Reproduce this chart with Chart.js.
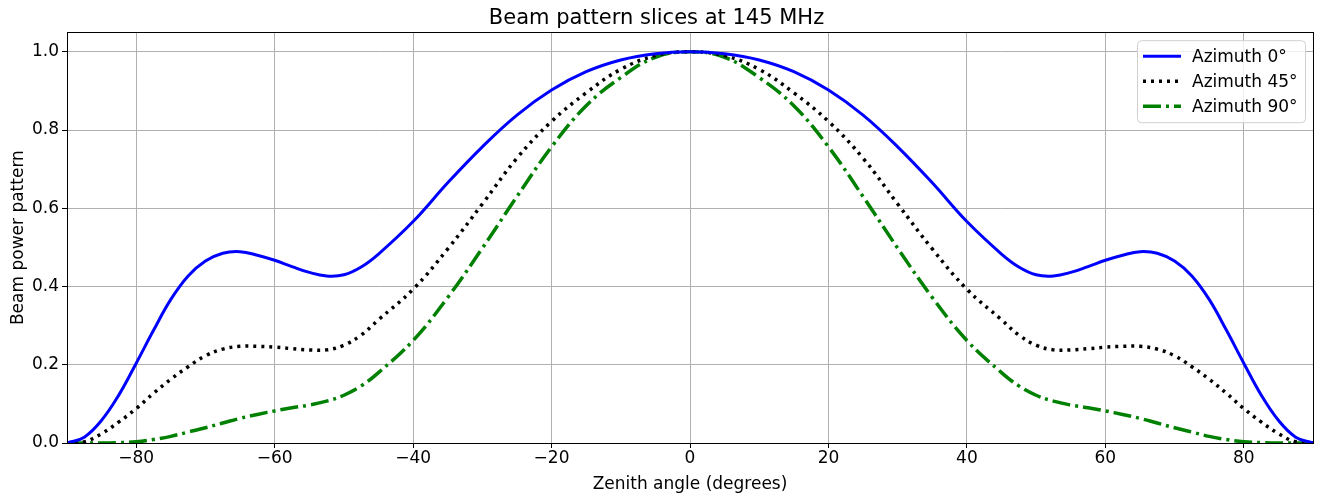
<!DOCTYPE html>
<html>
<head>
<meta charset="utf-8">
<script src="https://cdn.jsdelivr.net/npm/chart.js@4.4.1/dist/chart.umd.min.js"></script>
<style>
  html, body { margin: 0; padding: 0; background: #fff; }
  #wrap { width: 1322px; height: 497px; }
</style>
</head>
<body>
<div id="wrap"><canvas id="beamChart" width="1322" height="497"></canvas></div>
<script>
// Ángulos cenitales (grados)
const angulos = [-90, -87.5, -85, -82.5, -80, -77.5, -75, -72.5, -70, -67.5, -65, -62.5, -60, -57.5, -55, -52.5, -50, -47.5, -45,
                 -40, -35, -30, -25, -20, -15, -10, -5, 0, 5, 10, 15, 20, 25, 30, 35, 40,
                 45, 47.5, 50, 52.5, 55, 57.5, 60, 62.5, 65, 67.5, 70, 72.5, 75, 77.5, 80, 82.5, 85, 87.5, 90];

// Patrón de potencia por azimut
const azimut0 = [0, 0.015, 0.058, 0.123, 0.204, 0.288, 0.367, 0.427, 0.465, 0.485, 0.489, 0.48, 0.467, 0.451, 0.436, 0.427, 0.43, 0.45, 0.483,
                 0.566, 0.665, 0.757, 0.838, 0.902, 0.949, 0.979, 0.995, 1.0, 0.995, 0.979, 0.949, 0.902, 0.838, 0.757, 0.665, 0.566,
                 0.483, 0.45, 0.43, 0.427, 0.436, 0.451, 0.467, 0.48, 0.489, 0.485, 0.465, 0.427, 0.367, 0.288, 0.204, 0.123, 0.058, 0.015, 0];
const azimut45 = [0, 0.003, 0.024, 0.054, 0.088, 0.127, 0.163, 0.195, 0.223, 0.24, 0.247, 0.247, 0.245, 0.241, 0.238, 0.238, 0.25, 0.276, 0.315,
                  0.393, 0.496, 0.611, 0.728, 0.822, 0.895, 0.955, 0.99, 1.0, 0.99, 0.955, 0.895, 0.822, 0.728, 0.611, 0.496, 0.393,
                  0.315, 0.276, 0.25, 0.238, 0.238, 0.241, 0.245, 0.247, 0.247, 0.24, 0.223, 0.195, 0.163, 0.127, 0.088, 0.054, 0.024, 0.003, 0];
const azimut90 = [0, 0, 0, 0.001, 0.003, 0.009, 0.017, 0.028, 0.039, 0.051, 0.063, 0.073, 0.082, 0.09, 0.097, 0.107, 0.122, 0.146, 0.18,
                  0.262, 0.372, 0.498, 0.63, 0.757, 0.862, 0.934, 0.986, 1.0, 0.986, 0.934, 0.862, 0.757, 0.63, 0.498, 0.372, 0.262,
                  0.18, 0.146, 0.122, 0.107, 0.097, 0.09, 0.082, 0.073, 0.063, 0.051, 0.039, 0.028, 0.017, 0.009, 0.003, 0.001, 0, 0, 0];

const ticksX = [-80, -60, -40, -20, 0, 20, 40, 60, 80];
const ticksY = [0, 0.2, 0.4, 0.6, 0.8, 1.0];

const FUENTE = "'DejaVu Sans', sans-serif";

function puntos(valores) {
    return angulos.map((a, i) => ({ x: a, y: valores[i] }));
}

// Marco del eje y leyenda estilo matplotlib
const marcoYLeyenda = {
    id: 'marcoYLeyenda',
    afterDatasetsDraw(chart) {
        const { ctx, chartArea: ca } = chart;
        ctx.save();
        ctx.strokeStyle = '#000';
        ctx.lineWidth = 1;
        ctx.strokeRect(Math.round(ca.left) + 0.5, Math.round(ca.top) + 0.5,
                       Math.round(ca.right - ca.left), Math.round(ca.bottom - ca.top));

        // leyenda
        const w = 168, h = 82;
        const x0 = ca.right - 8 - w, y0 = ca.top + 8;
        ctx.beginPath();
        ctx.roundRect(x0 + 0.5, y0 + 0.5, w, h, 4);
        ctx.fillStyle = 'rgba(255,255,255,0.8)';
        ctx.fill();
        ctx.strokeStyle = '#d0d0d0';
        ctx.stroke();

        ctx.font = '17px ' + FUENTE;
        ctx.textBaseline = 'middle';
        chart.data.datasets.forEach((ds, i) => {
            const yy = y0 + 16 + i * 25;
            ctx.beginPath();
            ctx.strokeStyle = ds.borderColor;
            ctx.lineWidth = ds.borderWidth;
            ctx.setLineDash(ds.borderDash || []);
            ctx.moveTo(x0 + 6, yy);
            ctx.lineTo(x0 + 44, yy);
            ctx.stroke();
            ctx.setLineDash([]);
            ctx.fillStyle = '#000';
            ctx.fillText(ds.label, x0 + 55, yy + 1);
        });
        ctx.restore();
    }
};

const ctx = document.getElementById('beamChart').getContext('2d');
const beamChart = new Chart(ctx, {
    type: 'line',
    data: {
        datasets: [{
            label: 'Azimuth 0°',
            data: puntos(azimut0),
            borderColor: '#0000ff',
            borderWidth: 3,
            pointRadius: 0,
            tension: 0.4
        }, {
            label: 'Azimuth 45°',
            data: puntos(azimut45),
            borderColor: '#000000',
            borderWidth: 3.5,
            borderDash: [3, 5],
            pointRadius: 0,
            tension: 0.4
        }, {
            label: 'Azimuth 90°',
            data: puntos(azimut90),
            borderColor: '#008000',
            borderWidth: 3.5,
            borderDash: [18, 5, 3, 5],
            pointRadius: 0,
            tension: 0.4
        }]
    },
    options: {
        responsive: false,
        animation: false,
        layout: { padding: { left: 0, right: 9, top: 0, bottom: 0 } },
        plugins: {
            legend: { display: false },
            tooltip: { enabled: false },
            title: {
                display: true,
                text: 'Beam pattern slices at 145 MHz',
                color: '#000',
                font: { family: FUENTE, size: 21, weight: 'normal' },
                padding: { top: 6, bottom: 1 }
            }
        },
        scales: {
            x: {
                type: 'linear',
                min: -90,
                max: 90,
                afterBuildTicks: (s) => { s.ticks = ticksX.map(v => ({ value: v })); },
                afterFit: (s) => { s.height = 54; },
                ticks: {
                    color: '#000',
                    font: { family: FUENTE, size: 17 },
                    padding: 0,
                    maxRotation: 0,
                    callback: (v) => String(v).replace('-', '\u2212')
                },
                grid: { color: '#b0b0b0', lineWidth: 1, tickLength: 5, tickColor: '#000' },
                border: { display: true, color: '#000' },
                title: {
                    display: true,
                    text: 'Zenith angle (degrees)',
                    color: '#000',
                    font: { family: FUENTE, size: 17 },
                    padding: { top: 0, bottom: 2 }
                }
            },
            y: {
                type: 'linear',
                min: 0,
                max: 1.05,
                afterBuildTicks: (s) => { s.ticks = ticksY.map(v => ({ value: v })); },
                afterFit: (s) => { s.width = 67; },
                ticks: {
                    color: '#000',
                    font: { family: FUENTE, size: 17 },
                    padding: 3,
                    callback: (v) => v.toFixed(1)
                },
                grid: { color: '#b0b0b0', lineWidth: 1, tickLength: 5, tickColor: '#000' },
                border: { display: true, color: '#000' },
                title: {
                    display: true,
                    text: 'Beam power pattern',
                    color: '#000',
                    font: { family: FUENTE, size: 17 },
                    padding: { top: 8, bottom: 2 }
                }
            }
        }
    },
    plugins: [marcoYLeyenda]
});
</script>
</body>
</html>
